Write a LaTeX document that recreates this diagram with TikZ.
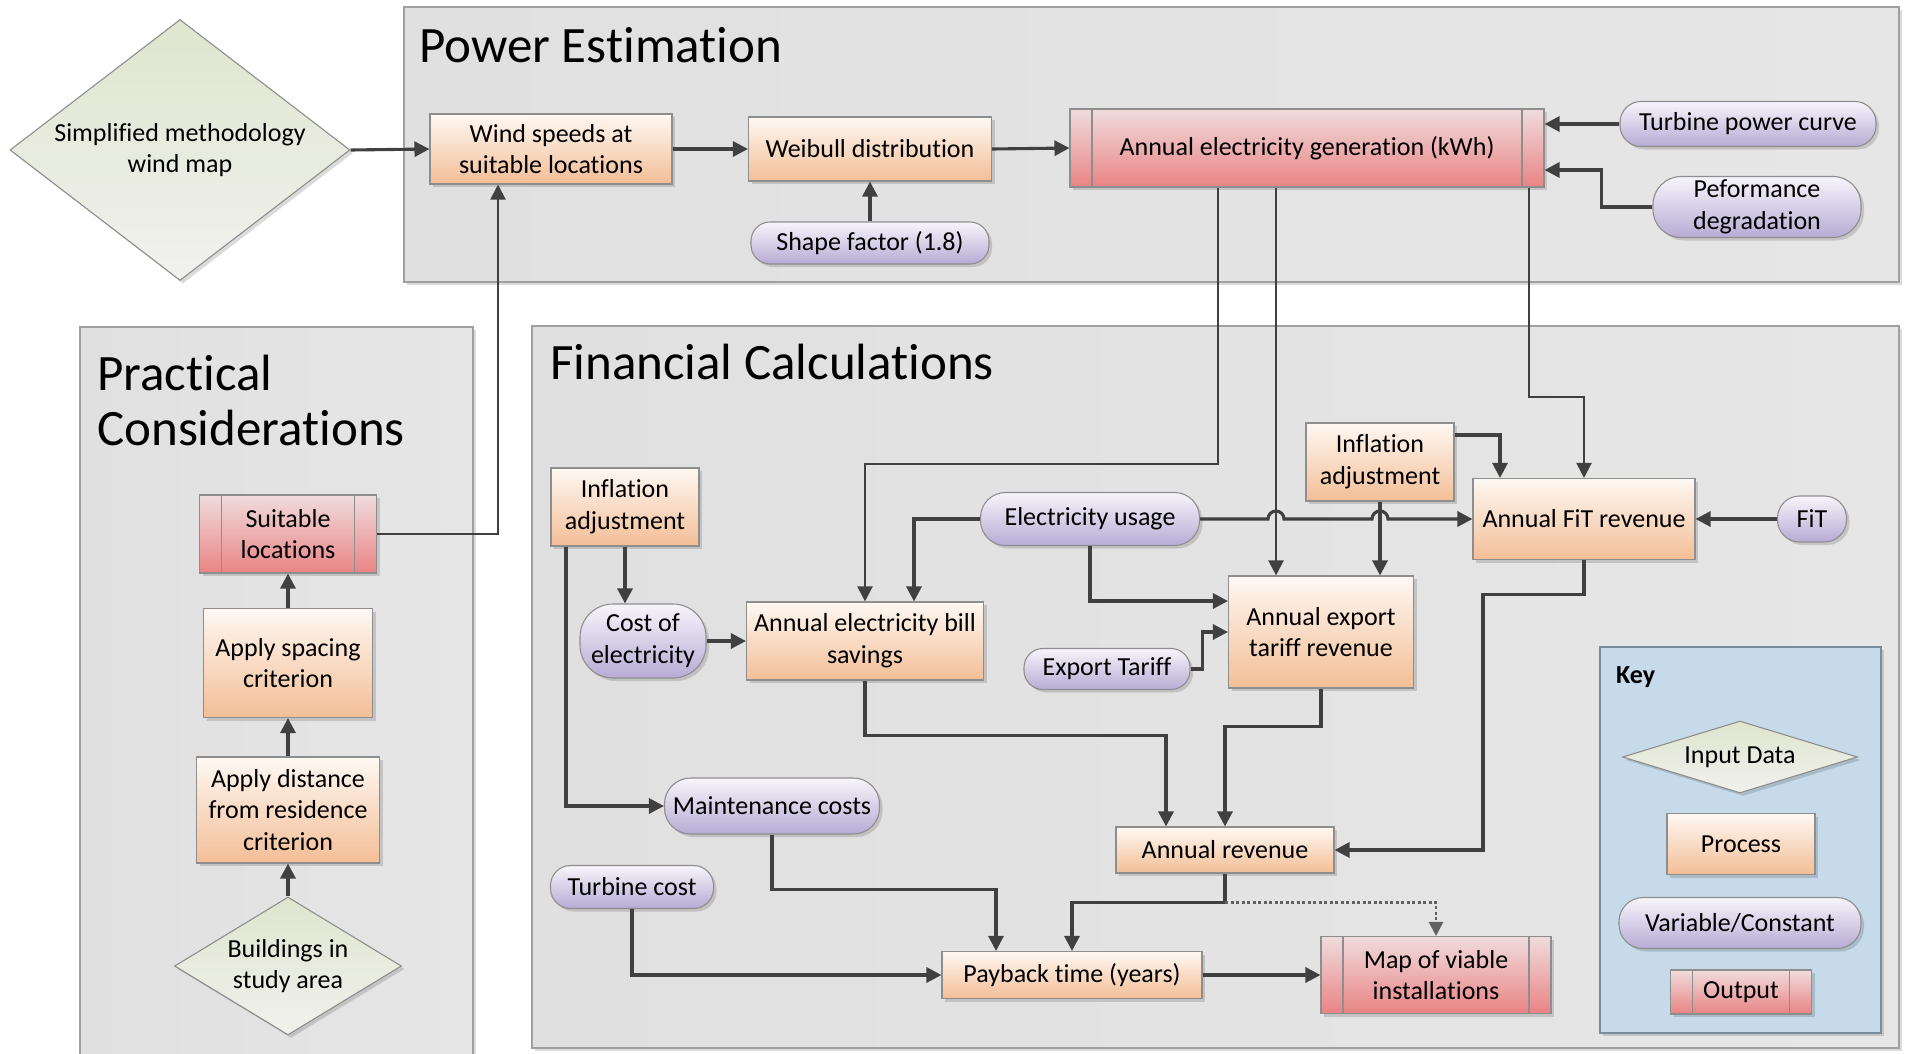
\documentclass[tikz,border=0pt]{standalone}
\usepackage{fontspec}
\setmainfont{Carlito}[Ligatures={NoCommon}]
\usetikzlibrary{shapes.geometric, arrows.meta, shadows, calc}

\definecolor{linec}{HTML}{404040}
\definecolor{frame}{HTML}{A0A0A0}
\definecolor{boxline}{HTML}{8E8E8E}
\definecolor{proctop}{HTML}{FEF8F3}
\definecolor{procbot}{HTML}{F3BE96}
\definecolor{outtop}{HTML}{F0DCDD}
\definecolor{outbot}{HTML}{E98384}
\definecolor{vartop}{HTML}{F7F5FB}
\definecolor{varbot}{HTML}{B7ABD4}
\definecolor{intop}{HTML}{DFE5CE}
\definecolor{inbot}{HTML}{F1F1EF}
\definecolor{panelA}{HTML}{E0E0E0}
\definecolor{panelB}{HTML}{F0F0F0}
\definecolor{panelC}{HTML}{E6E6E6}
\definecolor{keyA}{HTML}{C6DAE9}
\definecolor{keyB}{HTML}{DEE9F1}
\definecolor{keyline}{HTML}{7A8C99}
\definecolor{dotc}{HTML}{606060}

\tikzset{
  softshadow/.style={drop shadow={shadow xshift=3pt, shadow yshift=-3pt, fill=black, opacity=0.14}},
  sz/.style 2 args={minimum width=#1pt, minimum height=#2pt},
  every node/.style={font=\fontsize{26}{31.7}\selectfont, align=center, inner sep=2pt, text=black},
  paneltitle/.style={font=\fontsize{51}{55}\selectfont, anchor=base west, inner sep=0pt},
  panel/.style={draw=frame, line width=1.2pt, left color=panelA, middle color=panelB, right color=panelC, softshadow},
  keybox/.style={draw=keyline, line width=1.2pt, left color=keyA, middle color=keyB, right color=keyA, softshadow},
  proc/.style={rectangle, draw=boxline, line width=1.1pt, top color=proctop, bottom color=procbot, softshadow},
  outp/.style={rectangle, draw=boxline, line width=1.1pt, top color=outtop, bottom color=outbot, softshadow,
    path picture={\draw[boxline, line width=1.1pt]
      ([xshift=22pt]path picture bounding box.north west) -- ([xshift=22pt]path picture bounding box.south west)
      ([xshift=-22pt]path picture bounding box.north east) -- ([xshift=-22pt]path picture bounding box.south east);}},
  pill/.style={rectangle, rounded corners=#1pt, draw=boxline, line width=1.1pt, top color=vartop, bottom color=varbot, softshadow},
  pill/.default=20,
  inputd/.style={diamond, inner sep=0pt, draw=boxline, line width=1.1pt, top color=intop, bottom color=inbot, softshadow},
  arr/.style={draw=linec, line width=3.1pt, -{Triangle[length=15pt, width=15pt]}},
  thinarr/.style={arr, line width=2.1pt},
  dotarr/.style={draw=dotc, line width=2.3pt, dash pattern=on 3pt off 2.5pt, -{Triangle[length=14pt, width=14pt]}},
}

\begin{document}
\begin{tikzpicture}[x=1pt, y=-1pt]
\useasboundingbox[fill=white] (0,0) rectangle (1906,1053);

% group panels
\draw[panel] (404,7) rectangle (1899,282);
\draw[panel] (80,327) rectangle (473,1070);
\draw[panel] (532,326) rectangle (1899,1048);
\draw[keybox] (1600,647) rectangle (1881,1033);

\node[paneltitle] (tpow) at (419,62) {Power Estimation};
\node[paneltitle] (tprac1) at (97,390) {Practical};
\node[paneltitle] (tprac2) at (97,445) {Considerations};
\node[paneltitle] (tfin) at (550,379) {Financial Calculations};
\node[anchor=base west, inner sep=0pt, font=\fontsize{26}{31.7}\selectfont\bfseries] (tkey) at (1616,683) {Key};

% power estimation
\node[inputd, sz={340}{261}, shape aspect=1.3] (dmap) at (180,150) {Simplified methodology\\wind map};
\node[proc, sz={242}{70}] (wind) at (551,149) {Wind speeds at\\suitable locations};
\node[proc, sz={243}{64}] (weib) at (870,149) {Weibull distribution};
\node[outp, sz={474}{78}] (aeg) at (1307,148) {Annual electricity generation (kWh)};
\node[pill=19, sz={238}{42}] (shape) at (870,243) {Shape factor (1.8)};
\node[pill=21, sz={256}{45}] (tpc) at (1748,124) {Turbine power curve};
\node[pill=28, sz={208}{61}] (perf) at (1757,207) {Peformance\\degradation};

% practical considerations
\node[outp, sz={177}{78}] (suit) at (288,534) {Suitable\\locations};
\node[proc, sz={169}{109}] (spac) at (288,663) {Apply spacing\\criterion};
\node[proc, sz={183}{106}] (dist) at (288,810) {Apply distance\\from residence\\criterion};
\node[inputd, sz={227}{138}, shape aspect=1.64] (bld) at (288,966) {Buildings in\\study area};

% financial calculations
\node[proc, sz={148}{78}] (infl1) at (625,507) {Inflation\\adjustment};
\node[pill=33, sz={126}{74}] (coe) at (643,641) {Cost of\\electricity};
\node[proc, sz={237}{78}] (aebs) at (865,641) {Annual electricity bill\\savings};
\node[pill=25, sz={219}{53}] (elu) at (1090,519) {Electricity usage};
\node[proc, sz={148}{78}] (infl2) at (1380,462) {Inflation\\adjustment};
\node[proc, sz={222}{81}] (fitr) at (1584,519) {Annual FiT revenue};
\node[pill=22, sz={69}{46}] (fit) at (1812,519) {FiT};
\node[proc, sz={185}{112}] (aetr) at (1321,632) {Annual export\\tariff revenue};
\node[pill=19, sz={166}{41}] (expt) at (1107,669) {Export Tariff};
\node[pill=26, sz={215}{56}] (main) at (772,806) {Maintenance costs};
\node[proc, sz={218}{46}] (arev) at (1225,850) {Annual revenue};
\node[pill=20, sz={163}{43}] (tcost) at (632,887) {Turbine cost};
\node[proc, sz={260}{47}] (pay) at (1072,975) {Payback time (years)};
\node[outp, sz={230}{77}] (map) at (1436,975) {Map of viable\\installations};

% key
\node[inputd, sz={235}{72}, shape aspect=3.2] (kin) at (1740,757) {Input Data};
\node[proc, sz={148}{61}] (kproc) at (1741,844) {Process};
\node[pill=24, sz={242}{51}] (kvar) at (1740,923) {Variable/Constant};
\node[outp, sz={141}{44}] (kout) at (1741,992) {Output};

% connectors: power estimation
\draw[arr] (dmap.east) -- (wind.west);
\draw[arr] (wind.east) -- (weib.west);
\draw[arr] (weib.east) -- (aeg.west);
\draw[arr] (shape.north) -- (weib.south);
\draw[arr] (tpc.west) -- (tpc.west -| aeg.east);
\draw[arr] (perf.west) -- ++(-51,0) |- ($(aeg.east)+(0,22)$);

% connectors: practical considerations
\draw[arr] (bld.north) -- (dist.south);
\draw[arr] (dist.north) -- (spac.south);
\draw[arr] (spac.north) -- (suit.south);
\draw[thinarr] (suit.east) -| ($(wind.south)+(-53,0)$);

% connectors: financial calculations
\coordinate (hopA) at ($(aeg.south |- elu.east)+(-31,0)$);
\coordinate (hopB) at (infl2.south |- elu.east);
\draw[thinarr] ($(aeg.south)+(-89,0)$) -- ++(0,276) -| (aebs.north);
\draw[thinarr] ($(aeg.south)+(-31,0)$) -- ($(aetr.north)+(-45,0)$);
\draw[thinarr] ($(aeg.south)+(222,0)$) -- ++(0,209) -| (fitr.north);
\draw[arr] ($(infl2.east)+(0,-27)$) -| ($(fitr.north)+(-84,0)$);
\draw[arr] (infl2.south) -- (infl2.south |- aetr.north);
\draw[arr] (elu.east) -- ($(hopA)+(-8,0)$) arc[start angle=180, end angle=360, radius=8]
  -- ($(hopB)+(-8,0)$) arc[start angle=180, end angle=360, radius=8] -- (fitr.west);
\draw[arr] (elu.west) -| ($(aebs.north)+(49,0)$);
\draw[arr] (elu.south) |- ($(aetr.west)+(0,-31)$);
\draw[arr] (expt.east) -- ++(12,0) |- (aetr.west);
\draw[arr] (fit.west) -- (fitr.east);
\draw[arr] (fitr.south) -- ++(0,34) -- ++(-101,0) |- (arev.east);
\draw[arr] (infl1.south) -- (infl1.south |- coe.north);
\draw[arr] ($(infl1.south)+(-59,0)$) |- (main.west);
\draw[arr] (coe.east) -- (aebs.west);
\draw[arr] (aebs.south) -- ++(0,55) -| ($(arev.north)+(-59,0)$);
\draw[arr] (aetr.south) -- ++(0,38) -| (arev.north);
\draw[arr] (arev.south) -- ++(0,29) -| (pay.north);
\draw[dotarr] ($(arev.south)+(0,29)$) -| (map.north);
\draw[arr] (main.south) -- ++(0,55) -| ($(pay.north)+(-76,0)$);
\draw[arr] (tcost.south) |- (pay.west);
\draw[arr] (pay.east) -- (map.west);
\end{tikzpicture}
\end{document}
